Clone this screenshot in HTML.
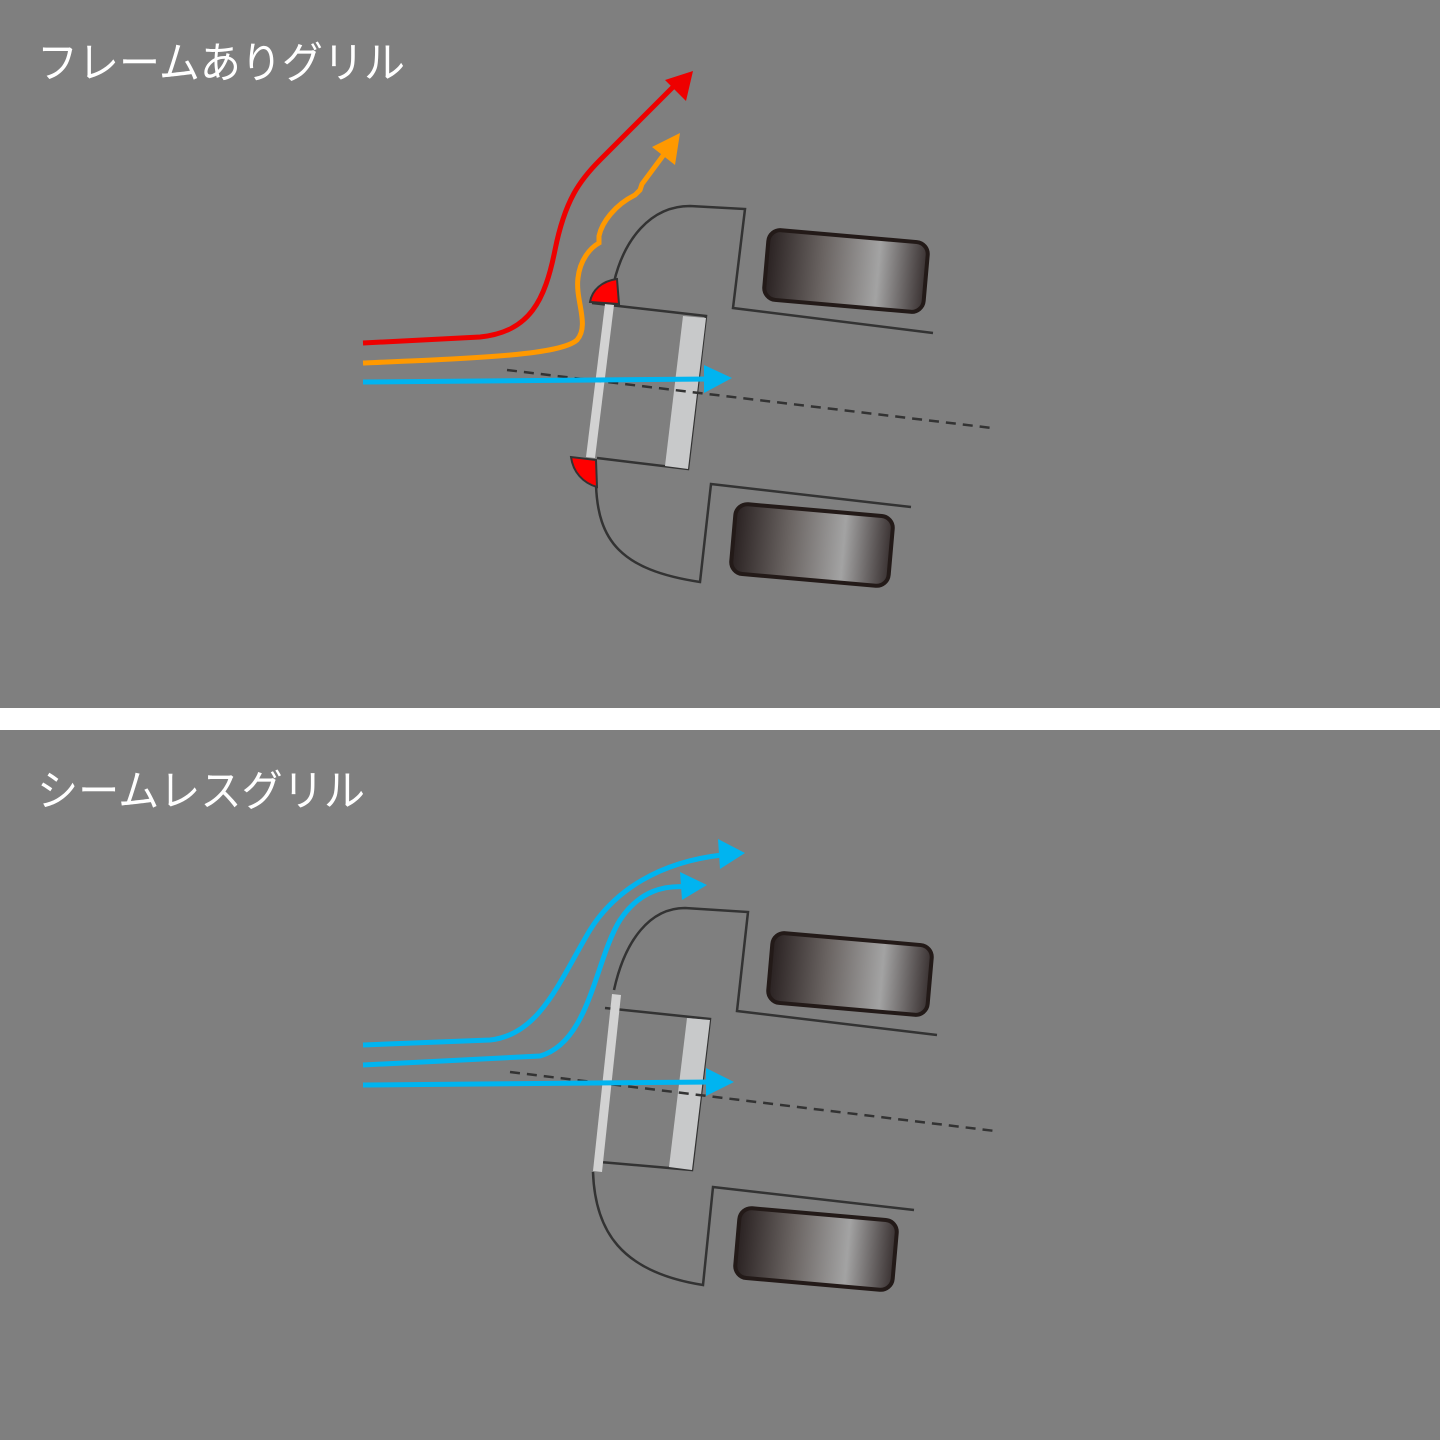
<!DOCTYPE html>
<html><head><meta charset="utf-8"><style>
html,body{margin:0;padding:0;background:#fff}
svg{display:block}
text{font-family:"Liberation Sans","Noto Sans CJK JP",sans-serif;fill:#fff}
</style></head><body>
<svg width="1440" height="1440" viewBox="0 0 1440 1440" xmlns="http://www.w3.org/2000/svg">
<defs>
<linearGradient id="tg" x1="0" x2="1" y1="0" y2="0">
<stop offset="0" stop-color="#2a2222"/>
<stop offset="0.35" stop-color="#6a6462"/>
<stop offset="0.7" stop-color="#a3a3a3"/>
<stop offset="1" stop-color="#3a3232"/>
</linearGradient>
</defs>
<rect x="0" y="0" width="1440" height="708" fill="#7f7f7f"/>
<rect x="0" y="730" width="1440" height="710" fill="#7f7f7f"/>
<text x="37" y="78" font-size="43" textLength="368" lengthAdjust="spacingAndGlyphs">フレームありグリル</text>
<text x="37" y="806" font-size="43" textLength="328" lengthAdjust="spacingAndGlyphs">シームレスグリル</text>

<!-- TOP CAR -->
<g fill="none" stroke="#333" stroke-width="2.5">
<path d="M614,282 C624,240 650,206 690,206 L745,209 L733,308 L933,333"/>
<path d="M592,303 L706,316 L688,469 L597,458"/>
<path d="M596,485 C598,540 620,570 700,582 L711,484 L911,507"/>
</g>
<polygon points="605,304 614,305 595,458 586,457" fill="#d2d2d2"/>
<polygon points="683,316 706,318 688,469 665,466" fill="#c8c9ca"/>
<path d="M619,304 L590,302 C592,290 602,281 617,279 Z" fill="#f00" stroke="#333" stroke-width="2"/>
<path d="M597,487 L596,460 L571,457 C573,472 583,483 597,487 Z" fill="#f00" stroke="#333" stroke-width="2"/>
<rect x="766" y="236" width="160" height="70" rx="12" fill="url(#tg)" stroke="#231a18" stroke-width="4" transform="rotate(5 846 271)"/>
<rect x="733" y="510" width="158" height="70" rx="12" fill="url(#tg)" stroke="#231a18" stroke-width="4" transform="rotate(5 812 545)"/>
<line x1="507" y1="370" x2="992" y2="428" stroke="#333" stroke-width="2.5" stroke-dasharray="10,7"/>
<path d="M363,343 L480,337 C530,332 545,300 555,250 C565,200 580,180 600,160 L675,85" fill="none" stroke="#e00" stroke-width="5"/>
<polygon points="693,71 665,80 686,101" fill="#e00"/>
<path d="M363,363 C480,358 560,355 577,340 C590,325 575,300 578,278 C580,260 590,248 599,243 L599,236 C602,222 615,205 635,195 L640,190 L642,184 L665,153" fill="none" stroke="#f90" stroke-width="5"/>
<polygon points="680,133 652,147 675,165" fill="#f90"/>
<line x1="363" y1="382" x2="710" y2="379" stroke="#00b4f0" stroke-width="5"/>
<polygon points="732,378 704,365 704,393" fill="#00b4f0"/>

<!-- BOTTOM CAR -->
<g fill="none" stroke="#333" stroke-width="2.5">
<path d="M614,990 C625,940 650,908 685,908 L748,912 L737,1011 L937,1035"/>
<path d="M605,1008 L710,1019 L692,1170 L600,1162"/>
<path d="M593,1172 C595,1230 620,1272 703,1285 L713,1187 L914,1210"/>
</g>
<polygon points="612,994 621,995 602,1172 593,1171" fill="#d2d2d2"/>
<polygon points="687,1018 710,1020 692,1170 669,1167" fill="#c8c9ca"/>
<rect x="770" y="939" width="160" height="70" rx="12" fill="url(#tg)" stroke="#231a18" stroke-width="4" transform="rotate(5 850 974)"/>
<rect x="737" y="1214" width="158" height="70" rx="12" fill="url(#tg)" stroke="#231a18" stroke-width="4" transform="rotate(5 816 1249)"/>
<line x1="510" y1="1072" x2="995" y2="1131" stroke="#333" stroke-width="2.5" stroke-dasharray="10,7"/>
<g fill="none" stroke="#00b4f0" stroke-width="5">
<path d="M363,1045 L490,1040 C540,1035 560,980 590,930 C615,890 660,862 722,855"/>
<path d="M363,1065 L540,1056 C590,1042 595,960 620,920 C640,890 665,885 688,887"/>
<line x1="363" y1="1085" x2="712" y2="1082"/>
</g>
<polygon points="745,853 718,839 720,869" fill="#00b4f0"/>
<polygon points="707,885 680,872 682,900" fill="#00b4f0"/>
<polygon points="734,1082 706,1068 706,1096" fill="#00b4f0"/>
</svg>
</body></html>
